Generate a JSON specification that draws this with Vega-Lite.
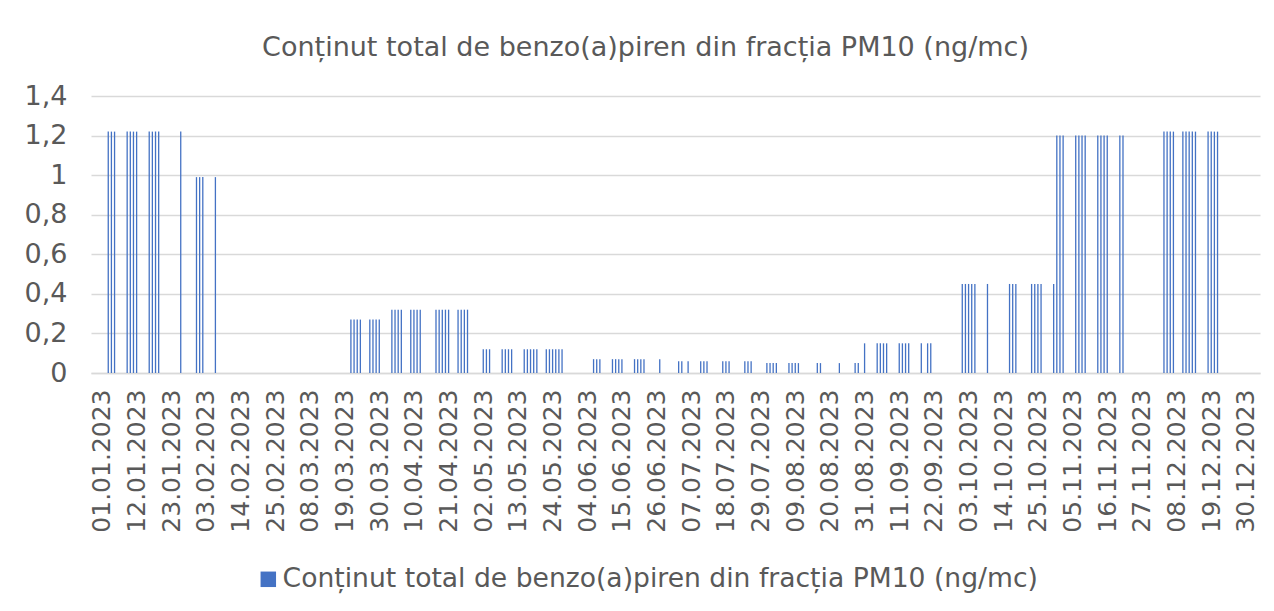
{
  "$schema": "https://vega.github.io/schema/vega-lite/v6.json",
  "autosize": "none",
  "width": 1169,
  "height": 277,
  "padding": {"left": 91, "top": 96, "right": 14, "bottom": 238},
  "background": "white",
  "title": {
    "text": "Conținut total de benzo(a)piren din fracția PM10 (ng/mc)",
    "font": "DejaVu Sans",
    "fontSize": 27,
    "fontWeight": "normal",
    "color": "#595959",
    "anchor": "middle",
    "offset": 20,
    "dx": -30
  },
  "data": {
    "values": [
      {"d": "2023-01-03", "v": 1.22}, {"d": "2023-01-04", "v": 1.22}, {"d": "2023-01-05", "v": 1.22},
      {"d": "2023-01-09", "v": 1.22}, {"d": "2023-01-10", "v": 1.22}, {"d": "2023-01-11", "v": 1.22}, {"d": "2023-01-12", "v": 1.22},
      {"d": "2023-01-16", "v": 1.22}, {"d": "2023-01-17", "v": 1.22}, {"d": "2023-01-18", "v": 1.22}, {"d": "2023-01-19", "v": 1.22},
      {"d": "2023-01-26", "v": 1.22},
      {"d": "2023-01-31", "v": 0.99}, {"d": "2023-02-01", "v": 0.99}, {"d": "2023-02-02", "v": 0.99}, {"d": "2023-02-06", "v": 0.99},
      {"d": "2023-03-21", "v": 0.27}, {"d": "2023-03-22", "v": 0.27}, {"d": "2023-03-23", "v": 0.27}, {"d": "2023-03-24", "v": 0.27},
      {"d": "2023-03-27", "v": 0.27}, {"d": "2023-03-28", "v": 0.27}, {"d": "2023-03-29", "v": 0.27}, {"d": "2023-03-30", "v": 0.27},
      {"d": "2023-04-03", "v": 0.32}, {"d": "2023-04-04", "v": 0.32}, {"d": "2023-04-05", "v": 0.32}, {"d": "2023-04-06", "v": 0.32},
      {"d": "2023-04-09", "v": 0.32}, {"d": "2023-04-10", "v": 0.32}, {"d": "2023-04-11", "v": 0.32}, {"d": "2023-04-12", "v": 0.32},
      {"d": "2023-04-17", "v": 0.32}, {"d": "2023-04-18", "v": 0.32}, {"d": "2023-04-19", "v": 0.32}, {"d": "2023-04-20", "v": 0.32}, {"d": "2023-04-21", "v": 0.32},
      {"d": "2023-04-24", "v": 0.32}, {"d": "2023-04-25", "v": 0.32}, {"d": "2023-04-26", "v": 0.32}, {"d": "2023-04-27", "v": 0.32},
      {"d": "2023-05-02", "v": 0.12}, {"d": "2023-05-03", "v": 0.12}, {"d": "2023-05-04", "v": 0.12},
      {"d": "2023-05-08", "v": 0.12}, {"d": "2023-05-09", "v": 0.12}, {"d": "2023-05-10", "v": 0.12}, {"d": "2023-05-11", "v": 0.12},
      {"d": "2023-05-15", "v": 0.12}, {"d": "2023-05-16", "v": 0.12}, {"d": "2023-05-17", "v": 0.12}, {"d": "2023-05-18", "v": 0.12}, {"d": "2023-05-19", "v": 0.12},
      {"d": "2023-05-22", "v": 0.12}, {"d": "2023-05-23", "v": 0.12}, {"d": "2023-05-24", "v": 0.12}, {"d": "2023-05-25", "v": 0.12}, {"d": "2023-05-26", "v": 0.12}, {"d": "2023-05-27", "v": 0.12},
      {"d": "2023-06-06", "v": 0.07}, {"d": "2023-06-07", "v": 0.07}, {"d": "2023-06-08", "v": 0.07},
      {"d": "2023-06-12", "v": 0.07}, {"d": "2023-06-13", "v": 0.07}, {"d": "2023-06-14", "v": 0.07}, {"d": "2023-06-15", "v": 0.07},
      {"d": "2023-06-19", "v": 0.07}, {"d": "2023-06-20", "v": 0.07}, {"d": "2023-06-21", "v": 0.07}, {"d": "2023-06-22", "v": 0.07},
      {"d": "2023-06-27", "v": 0.07},
      {"d": "2023-07-03", "v": 0.06}, {"d": "2023-07-04", "v": 0.06}, {"d": "2023-07-06", "v": 0.06},
      {"d": "2023-07-10", "v": 0.06}, {"d": "2023-07-11", "v": 0.06}, {"d": "2023-07-12", "v": 0.06},
      {"d": "2023-07-17", "v": 0.06}, {"d": "2023-07-18", "v": 0.06}, {"d": "2023-07-19", "v": 0.06},
      {"d": "2023-07-24", "v": 0.06}, {"d": "2023-07-25", "v": 0.06}, {"d": "2023-07-26", "v": 0.06},
      {"d": "2023-07-31", "v": 0.05}, {"d": "2023-08-01", "v": 0.05}, {"d": "2023-08-02", "v": 0.05}, {"d": "2023-08-03", "v": 0.05},
      {"d": "2023-08-07", "v": 0.05}, {"d": "2023-08-08", "v": 0.05}, {"d": "2023-08-09", "v": 0.05}, {"d": "2023-08-10", "v": 0.05},
      {"d": "2023-08-16", "v": 0.05}, {"d": "2023-08-17", "v": 0.05},
      {"d": "2023-08-23", "v": 0.05},
      {"d": "2023-08-28", "v": 0.05}, {"d": "2023-08-29", "v": 0.05},
      {"d": "2023-08-31", "v": 0.15},
      {"d": "2023-09-04", "v": 0.15}, {"d": "2023-09-05", "v": 0.15}, {"d": "2023-09-06", "v": 0.15}, {"d": "2023-09-07", "v": 0.15},
      {"d": "2023-09-11", "v": 0.15}, {"d": "2023-09-12", "v": 0.15}, {"d": "2023-09-13", "v": 0.15}, {"d": "2023-09-14", "v": 0.15},
      {"d": "2023-09-18", "v": 0.15}, {"d": "2023-09-20", "v": 0.15}, {"d": "2023-09-21", "v": 0.15},
      {"d": "2023-10-01", "v": 0.45}, {"d": "2023-10-02", "v": 0.45}, {"d": "2023-10-03", "v": 0.45}, {"d": "2023-10-04", "v": 0.45}, {"d": "2023-10-05", "v": 0.45},
      {"d": "2023-10-09", "v": 0.45},
      {"d": "2023-10-16", "v": 0.45}, {"d": "2023-10-17", "v": 0.45}, {"d": "2023-10-18", "v": 0.45},
      {"d": "2023-10-23", "v": 0.45}, {"d": "2023-10-24", "v": 0.45}, {"d": "2023-10-25", "v": 0.45}, {"d": "2023-10-26", "v": 0.45},
      {"d": "2023-10-30", "v": 0.45},
      {"d": "2023-10-31", "v": 1.2}, {"d": "2023-11-01", "v": 1.2}, {"d": "2023-11-02", "v": 1.2},
      {"d": "2023-11-06", "v": 1.2}, {"d": "2023-11-07", "v": 1.2}, {"d": "2023-11-08", "v": 1.2}, {"d": "2023-11-09", "v": 1.2},
      {"d": "2023-11-13", "v": 1.2}, {"d": "2023-11-14", "v": 1.2}, {"d": "2023-11-15", "v": 1.2}, {"d": "2023-11-16", "v": 1.2},
      {"d": "2023-11-20", "v": 1.2}, {"d": "2023-11-21", "v": 1.2},
      {"d": "2023-12-04", "v": 1.22}, {"d": "2023-12-05", "v": 1.22}, {"d": "2023-12-06", "v": 1.22}, {"d": "2023-12-07", "v": 1.22},
      {"d": "2023-12-10", "v": 1.22}, {"d": "2023-12-11", "v": 1.22}, {"d": "2023-12-12", "v": 1.22}, {"d": "2023-12-13", "v": 1.22}, {"d": "2023-12-14", "v": 1.22},
      {"d": "2023-12-18", "v": 1.22}, {"d": "2023-12-19", "v": 1.22}, {"d": "2023-12-20", "v": 1.22}, {"d": "2023-12-21", "v": 1.22}
    ]
  },
  "mark": {"type": "bar", "width": 1.3},
  "encoding": {
    "x": {
      "field": "d",
      "type": "temporal",
      "scale": {"type": "utc", "domain": [1672368000000, 1704144000000]},
      "axis": {
        "title": null,
        "values": [1672531200000, 1673481600000, 1674432000000, 1675382400000, 1676332800000, 1677283200000, 1678233600000, 1679184000000, 1680134400000, 1681084800000, 1682035200000, 1682985600000, 1683936000000, 1684886400000, 1685836800000, 1686787200000, 1687737600000, 1688688000000, 1689638400000, 1690588800000, 1691539200000, 1692489600000, 1693440000000, 1694390400000, 1695340800000, 1696291200000, 1697241600000, 1698192000000, 1699142400000, 1700092800000, 1701043200000, 1701993600000, 1702944000000, 1703894400000],
        "format": "%d.%m.%Y",
        "labelAngle": -90,
        "labelFont": "DejaVu Sans",
        "labelFontSize": 25,
        "labelColor": "#595959",
        "labelPadding": 16,
        "labelOverlap": false,
        "labelFlush": false,
        "labelLimit": 0,
        "ticks": false,
        "grid": false,
        "domainColor": "#d9d9d9",
        "domainWidth": 1.5
      }
    },
    "y": {
      "field": "v",
      "type": "quantitative",
      "scale": {"domain": [0, 1.4]},
      "axis": {
        "title": null,
        "values": [0, 0.2, 0.4, 0.6, 0.8, 1, 1.2, 1.4],
        "labelExpr": "replace(format(datum.value, '~g'), '.', ',')",
        "labelFont": "DejaVu Sans",
        "labelFontSize": 27,
        "labelColor": "#595959",
        "labelPadding": 24,
        "ticks": false,
        "domain": false,
        "grid": true,
        "gridColor": "#d9d9d9",
        "gridWidth": 1.5
      }
    },
    "color": {
      "datum": "Conținut total de benzo(a)piren din fracția PM10 (ng/mc)",
      "type": "nominal",
      "scale": {"range": ["#4472C4"]},
      "legend": {
        "title": null,
        "orient": "none",
        "legendX": 164,
        "legendY": 470,
        "symbolType": "square",
        "symbolSize": 240,
        "symbolStrokeWidth": 0,
        "labelFont": "DejaVu Sans",
        "labelFontSize": 26.6,
        "labelColor": "#595959",
        "labelOffset": 1,
        "labelLimit": 0
      }
    }
  },
  "config": {"view": {"stroke": null}}
}
